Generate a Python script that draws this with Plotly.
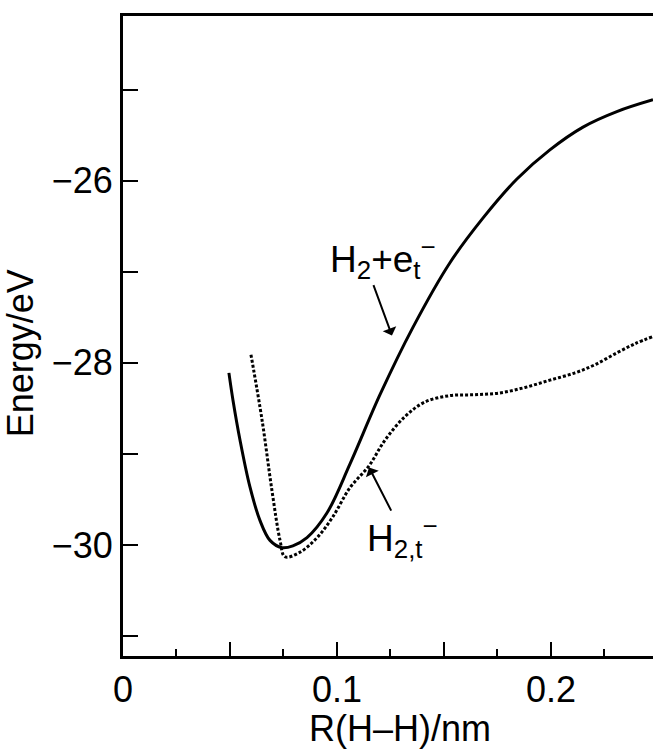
import plotly.graph_objects as go

# H2 + e_t^-  (solid)
r_solid = [0.0495, 0.0514, 0.0547, 0.0593, 0.0640, 0.0687, 0.0743, 0.0794, 0.0860, 0.0953,
           0.1061, 0.1201, 0.1355, 0.1528, 0.1682, 0.1841, 0.1995, 0.2150, 0.2308, 0.2477]
e_solid = [-28.11, -28.41, -28.85, -29.36, -29.73, -29.95, -30.03, -30.01, -29.92, -29.65,
           -29.11, -28.35, -27.61, -26.90, -26.41, -25.98, -25.66, -25.41, -25.24, -25.11]

# H2,t^-  (dotted)
r_dot = [0.0598, 0.0650, 0.0696, 0.0734, 0.0757, 0.0827, 0.0907, 0.0981, 0.1061, 0.1150,
         0.1224, 0.1318, 0.1411, 0.1528, 0.1645, 0.1762, 0.1879, 0.1995, 0.2112, 0.2206,
         0.2308, 0.2393, 0.2477]
e_dot = [-27.91, -28.63, -29.40, -29.95, -30.13, -30.08, -29.92, -29.69, -29.37, -29.13,
         -28.85, -28.59, -28.43, -28.36, -28.35, -28.33, -28.27, -28.19, -28.11, -28.02,
         -27.89, -27.79, -27.71]

x_tickvals = [0, 0.05, 0.1, 0.15, 0.2]
x_ticktext = ["0", "", "0.1", "", "0.2"]
y_tickvals = [-31, -30, -29, -28, -27, -26, -25]
y_ticktext = ["", "−30", "", "−28", "", "−26", ""]
x_title = "R(H–H)/nm"
y_title = "Energy/eV"

FONT = "Liberation Sans, Arial, Helvetica, sans-serif"

fig = go.Figure()
fig.add_trace(go.Scatter(x=r_solid, y=e_solid, mode="lines", line=dict(color="black", width=3, shape="spline"),
                         showlegend=False, hoverinfo="skip"))
fig.add_trace(go.Scatter(x=r_dot, y=e_dot, mode="lines",
                         line=dict(color="black", width=3, dash="3px,2px", shape="spline"),
                         showlegend=False, hoverinfo="skip"))

fig.add_annotation(x=0.1257, y=-27.70, ax=0.1168, ay=-27.13, xref="x", yref="y", axref="x", ayref="y",
                   showarrow=True, arrowhead=1, arrowsize=1.2, arrowwidth=2, arrowcolor="black", text="")
fig.add_annotation(x=0.1150, y=-29.15, ax=0.1257, ay=-29.64, xref="x", yref="y", axref="x", ayref="y",
                   showarrow=True, arrowhead=1, arrowsize=1.2, arrowwidth=2, arrowcolor="black", text="")
fig.add_annotation(x=0.1215, y=-26.85, xref="x", yref="y", showarrow=False,
                   text="H<sub>2</sub>+e<sub>t</sub><sup>−</sup>", font=dict(family=FONT, size=37, color="black"))
fig.add_annotation(x=0.1304, y=-29.92, xref="x", yref="y", showarrow=False,
                   text="H<sub>2,t</sub><sup>−</sup>", font=dict(family=FONT, size=37, color="black"))

# axis titles
fig.add_annotation(x=0.523, y=0, xref="paper", yref="paper", yanchor="middle", yshift=-72,
                   showarrow=False, text=x_title, font=dict(family=FONT, size=36, color="black"))
fig.add_annotation(x=0, y=0.473, xref="paper", yref="paper", xanchor="center", xshift=-103,
                   textangle=-90, showarrow=False, text=y_title, font=dict(family=FONT, size=36, color="black"))

fig.update_layout(
    width=653, height=754,
    margin=dict(l=123, r=0, t=16, b=98),
    paper_bgcolor="white", plot_bgcolor="white",
    font=dict(family=FONT, size=36, color="black"),
    xaxis=dict(range=[0, 0.2477], showgrid=False, zeroline=False,
               showline=True, linecolor="black", linewidth=3, mirror=True,
               ticks="inside", ticklen=14, tickwidth=2, tickcolor="black",
               tickvals=x_tickvals, ticktext=x_ticktext, tickfont=dict(size=36),
               minor=dict(dtick=0.025, ticks="inside", ticklen=7, tickwidth=2, tickcolor="black")),
    yaxis=dict(range=[-31.22, -24.19], showgrid=False, zeroline=False,
               showline=True, linecolor="black", linewidth=3,
               ticks="inside", ticklen=15, tickwidth=2, tickcolor="black",
               tickvals=y_tickvals, ticktext=y_ticktext, tickfont=dict(size=36)),
)

fig.write_html("out.html")
